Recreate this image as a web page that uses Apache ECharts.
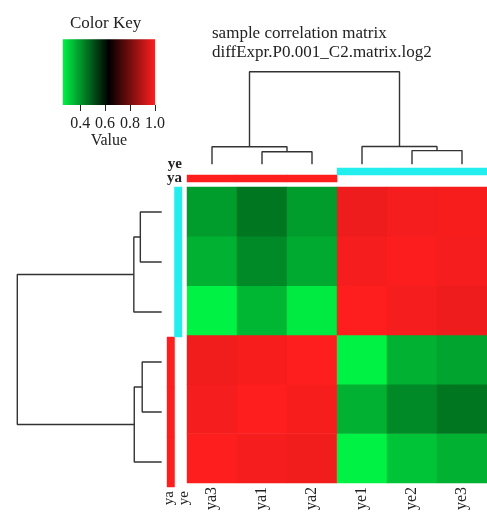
<!DOCTYPE html>
<html><head><meta charset="utf-8">
<script src="https://cdn.jsdelivr.net/npm/echarts@6/dist/echarts.min.js"></script>
<style>html,body{margin:0;padding:0;background:#fff}#c{width:487px;height:513px}</style>
</head><body><div id="c"></div>
<script>
// ---- data ----
const samples = ['ya3','ya1','ya2','ye1','ye2','ye3'];
const groups = ['ya','ye'];
const sampleGroup = ['ya','ya','ya','ye','ye','ye'];
const groupColors = ['#ff1e1e', '#22eeee'];
// correlation rows (one per sample, same order as samples)
const corrYa3 = [1.00, 0.985, 0.98, 0.26, 0.33, 0.36];
const corrYa1 = [0.985, 1.00, 0.99, 0.36, 0.42, 0.45];
const corrYa2 = [0.98, 0.99, 1.00, 0.26, 0.36, 0.38];
const corrYe1 = [0.26, 0.35, 0.27, 1.00, 0.985, 0.975];
const corrYe2 = [0.36, 0.42, 0.37, 0.985, 0.995, 0.985];
const corrYe3 = [0.39, 0.45, 0.39, 0.975, 0.985, 0.99];
const corr = [corrYa3, corrYa1, corrYa2, corrYe1, corrYe2, corrYe3];
const keyTicks = [0.4, 0.6, 0.8, 1.0];
const keyRange = [0.26, 1.0];
const keyColors = ['#00f244', '#000000', '#ff1e1e'];
// dendrogram merges: [left, right, height]; negative = leaf (-1 -> samples[0]), positive = earlier merge number
const merges = [
  [-2, -3, 0.135],
  [-1, 1, 0.19],
  [-5, -6, 0.148],
  [-4, 3, 0.193],
  [2, 4, 1.0]
];

// ---- build ----
const FONT = 'Liberation Serif';
const nodePos = [], nodeH = [];
function pos(n){ return n < 0 ? -n - 1 : nodePos[n - 1]; }
function hgt(n){ return n < 0 ? 0 : nodeH[n - 1]; }
merges.forEach(m => { nodePos.push((pos(m[0]) + pos(m[1])) / 2); nodeH.push(m[2]); });
function dendroSeries(horizontal, xi, yi){
  return merges.map(m => {
    const pL = pos(m[0]), pR = pos(m[1]), hL = hgt(m[0]), hR = hgt(m[1]), h = m[2];
    let pts = [[pL, hL], [pL, h], [pR, h], [pR, hR]];
    if (horizontal) pts = pts.map(p => [p[1], p[0]]);
    return { type: 'line', xAxisIndex: xi, yAxisIndex: yi, data: pts, symbol: 'none', clip: false,
      lineStyle: { color: '#333', width: 1.4 }, silent: true, animation: false };
  });
}
const heatData = [];
corr.forEach((row, r) => row.forEach((v, c) => heatData.push([c, r, v])));
const colSide = samples.map((s, i) => { const g = groups.indexOf(sampleGroup[i]); return { value: [i, g, 1], itemStyle: { color: groupColors[g] } }; });
const rowSide = samples.map((s, i) => { const g = groups.indexOf(sampleGroup[i]); return { value: [g, i, 1], itemStyle: { color: groupColors[g] } }; });

const hidden = { show: false };
const chart = echarts.init(document.getElementById('c'), null, { renderer: 'canvas' });
chart.setOption({
  animation: false,
  backgroundColor: '#fff',
  textStyle: { fontFamily: FONT },
  title: [
    { text: 'sample correlation matrix\ndiffExpr.P0.001_C2.matrix.log2', left: 212, top: 24, padding: 0,
      textStyle: { fontFamily: FONT, fontSize: 17, fontWeight: 'normal', color: '#222', lineHeight: 19 } },
    { text: 'Color Key', left: 70, top: 15, padding: 0,
      textStyle: { fontFamily: FONT, fontSize: 17, fontWeight: 'normal', color: '#222' } }
  ],
  grid: [
    { left: 187, top: 187, width: 300, height: 300 },
    { left: 187, top: 168, width: 300, height: 14 },
    { left: 167, top: 187, width: 15, height: 300 },
    { left: 187, top: 71.7, width: 300, height: 92.6 },
    { left: 17.3, top: 187, width: 144.4, height: 300 },
    { left: 62.7, top: 39.3, width: 92.3, height: 65.7 }
  ],
  xAxis: [
    { type: 'category', gridIndex: 0, data: samples, axisLine: hidden, axisTick: hidden,
      axisLabel: { rotate: 90, interval: 0, margin: 4, fontFamily: FONT, fontSize: 16, color: '#222' } },
    { type: 'category', gridIndex: 1, data: samples, show: false },
    { type: 'category', gridIndex: 2, data: groups, axisLine: hidden, axisTick: hidden,
      axisLabel: { rotate: 90, interval: 0, margin: 4, fontFamily: FONT, fontSize: 15, color: '#222',
        formatter: v => '{' + v + '|' + v + '}',
        rich: { ya: { fontFamily: FONT, fontSize: 15, color: '#222', padding: [0, 0, 3, 0] },
                ye: { fontFamily: FONT, fontSize: 15, color: '#222', padding: [11, 0, 0, 0] } } } },
    { type: 'value', gridIndex: 3, min: -0.5, max: 5.5, show: false },
    { type: 'value', gridIndex: 4, min: 0, max: 1, inverse: true, show: false },
    { type: 'value', gridIndex: 5, min: keyRange[0], max: keyRange[1], splitLine: hidden, axisLine: hidden,
      axisTick: { show: true, length: 6, customValues: keyTicks, lineStyle: { color: '#222' } },
      axisLabel: { customValues: keyTicks, margin: 11, fontFamily: FONT, fontSize: 16, color: '#222',
        formatter: v => v.toFixed(1) },
      name: 'Value', nameLocation: 'middle', nameGap: 25,
      nameTextStyle: { fontFamily: FONT, fontSize: 16, color: '#222' } }
  ],
  yAxis: [
    { type: 'category', gridIndex: 0, data: samples, show: false },
    { type: 'category', gridIndex: 1, data: groups, axisLine: hidden, axisTick: hidden,
      axisLabel: { interval: 0, margin: 5, color: '#222',
        formatter: v => '{' + v + '|' + v + '}',
        rich: { ya: { fontFamily: FONT, fontSize: 15, fontWeight: 'bold', color: '#222', padding: [0, 0, 0, 0] },
                ye: { fontFamily: FONT, fontSize: 15, fontWeight: 'bold', color: '#222', padding: [0, 0, 14, 0] } } } },
    { type: 'category', gridIndex: 2, data: samples, show: false },
    { type: 'value', gridIndex: 3, min: 0, max: 1, show: false },
    { type: 'value', gridIndex: 4, min: -0.5, max: 5.5, show: false },
    { type: 'category', gridIndex: 5, data: ['key'], show: false }
  ],
  visualMap: { show: false, type: 'continuous', seriesIndex: 0, min: keyRange[0], max: keyRange[1],
    inRange: { color: keyColors } },
  series: [
    { type: 'heatmap', xAxisIndex: 0, yAxisIndex: 0, data: heatData, emphasis: { disabled: true } },
    { type: 'heatmap', xAxisIndex: 1, yAxisIndex: 1, data: colSide, emphasis: { disabled: true } },
    { type: 'heatmap', xAxisIndex: 2, yAxisIndex: 2, data: rowSide, emphasis: { disabled: true } },
    { type: 'bar', xAxisIndex: 5, yAxisIndex: 5, data: [keyRange[1]], barWidth: '100%', silent: true,
      itemStyle: { color: new echarts.graphic.LinearGradient(0, 0, 1, 0,
        keyColors.map((c, i) => ({ offset: i / (keyColors.length - 1), color: c }))) } }
  ].concat(dendroSeries(false, 3, 3), dendroSeries(true, 4, 4))
});
</script></body></html>
